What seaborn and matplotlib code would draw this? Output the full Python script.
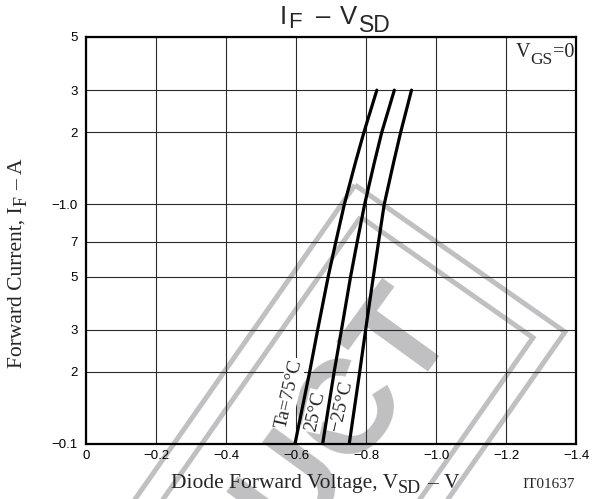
import numpy as np
import pandas as pd
import matplotlib
matplotlib.use('Agg')
import matplotlib.pyplot as plt
import seaborn as sns
from matplotlib.patches import Polygon

# forward current (A) and diode forward voltage (V)
current = [0.1, 0.2, 0.3, 0.5, 0.7, 1.0, 1.5, 2.0, 3.0]
vsd_75 = [-0.597, -0.639, -0.662, -0.692, -0.714, -0.738, -0.770, -0.794, -0.831]
vsd_25 = [-0.676, -0.709, -0.730, -0.756, -0.775, -0.796, -0.824, -0.845, -0.881]
vsd_m25 = [-0.752, -0.782, -0.799, -0.821, -0.836, -0.852, -0.879, -0.899, -0.930]
temps = ['75', '25', '-25']

x_ticks = [0, -0.2, -0.4, -0.6, -0.8, -1.0, -1.2, -1.4]
x_ticklabels = ['0', '\u22120.2', '\u22120.4', '\u22120.6', '\u22120.8', '\u22121.0', '\u22121.2', '\u22121.4']
y_ticks = [0.1, 0.2, 0.3, 0.5, 0.7, 1.0, 2.0, 3.0, 5.0]
y_ticklabels = ['\u22120.1', '2', '3', '5', '7', '\u22121.0', '2', '3', '5']

df = pd.DataFrame({
    'V': vsd_75 + vsd_25 + vsd_m25,
    'I': current * 3,
    'Ta': np.repeat(temps, len(current)),
})

sns.set_theme(style='white')
plt.rcParams['font.family'] = ['Liberation Sans', 'DejaVu Sans']
serif = ['Liberation Serif', 'DejaVu Serif']
sans = ['Liberation Sans', 'DejaVu Sans']

W, H = 607, 499
fig = plt.figure(figsize=(W / 100, H / 100), dpi=100)
ax = fig.add_axes([86 / W, 1 - 444 / H, 490 / W, 407 / H])


def fp(x, y):
    # pixel position in the picture -> figure fraction
    return (x / W, 1 - y / H)


def rich_text(pieces, x, y, ha='center', rotation=0, family=serif):
    """pieces: (text, fontsize, drop in px, gap before in px)"""
    r = fig.canvas.get_renderer()
    widths = []
    for s, size, drop, gap in pieces:
        t = fig.text(0, 0, s, fontsize=size, family=family)
        widths.append(gap + t.get_window_extent(r).width)
        t.remove()
    total = sum(widths)
    pos = {'left': 0, 'center': -total / 2, 'right': -total}[ha]
    for (s, size, drop, gap), w in zip(pieces, widths):
        pos += gap
        if rotation == 0:
            px, py = x + pos, y + drop
        else:
            px, py = x + drop, y - pos
        fig.text(*fp(px, py), s, fontsize=size, family=family, rotation=rotation,
                 rotation_mode='anchor', ha='left', va='baseline')
        pos += w - gap


# grey "PRODUCT" stamp, under the grid and tick labels
gray = '#c0c0c2'
A = np.array([355.0, 185.0])
B = np.array([565.0, 332.0])
u = (B - A) / np.linalg.norm(B - A)
v = np.array([-u[1], u[0]])
L = 430
for d in [0, 23]:
    a = A + d * u + d * v
    b = B - d * u + d * v
    pts = [a, b, b + (L - d) * v, a + (L - d) * v]
    ax.add_patch(Polygon([fp(*p) for p in pts], closed=True, fill=False,
                         edgecolor=gray, lw=3.6, transform=fig.transFigure,
                         clip_on=False, zorder=0.3))
ax.text(*fp(455, 323), 'PRODUCT', transform=fig.transFigure, rotation=54,
        rotation_mode='anchor', ha='right', va='baseline', fontsize=96,
        fontweight='bold', color=gray, clip_on=False, zorder=0.3)

sns.lineplot(data=df, x='V', y='I', hue='Ta', palette=['black'] * 3,
             legend=False, sort=False, estimator=None, lw=2.3, ax=ax, zorder=4)

ax.set_yscale('log')
ax.set_xlim(0, -1.4)
ax.set_ylim(0.1, 5)
ax.set_xticks(x_ticks)
ax.set_xticklabels(x_ticklabels)
ax.set_yticks(y_ticks)
ax.set_yticklabels(y_ticklabels)
ax.minorticks_off()
ax.tick_params(length=0, labelsize=9.5, colors='black')
ax.tick_params(axis='x', pad=4)
ax.tick_params(axis='y', pad=6)
ax.set_xlabel('')
ax.set_ylabel('')
ax.grid(True, which='major', color='#2a2a2a', lw=0.8)
ax.set_axisbelow(True)
for s in ax.spines.values():
    s.set_color('black')
    s.set_linewidth(1.6)
    s.set_zorder(5)

# curve labels
box = dict(facecolor='white', edgecolor='none', pad=1)
for txt, x, y in [('Ta=75°C', -0.580, 0.162), ('25°C', -0.654, 0.137),
                  ('\u221225°C', -0.731, 0.144)]:
    ax.text(x, y, txt, rotation=77, rotation_mode='anchor', ha='center',
            va='center', fontsize=14, family=serif, bbox=box, zorder=3)

# title  I_F - V_SD
rich_text([('I', 18.5, 0, 0), ('F', 16, 3.5, 1.5), ('\u2013', 18.5, 0, 14),
           ('V', 18.5, 0, 10), ('SD', 16.5, 7.5, 1)],
          335, 24, family=sans)

# V_GS=0
rich_text([('V', 14.5, 0, 0), ('GS', 12.5, 7, 0), ('=0', 14.5, 0, 0)],
          574, 57, ha='right')

rich_text([('Forward Current, I', 15.5, 0, 0), ('F', 13, 5, 0),
           ('\u2013', 15.5, 0, 6), ('A', 15.5, 0, 6)],
          22, 263, rotation=90)
rich_text([('Diode Forward Voltage, V', 15.5, 0, 0), ('SD', 13, 5, 0),
           ('\u2013', 15.5, 0, 6), ('V', 15.5, 0, 6)],
          315, 488)
fig.text(*fp(575, 488), 'IT01637', ha='right', va='baseline',
         fontsize=11, family=serif)

fig.savefig('out.png', dpi=100)
